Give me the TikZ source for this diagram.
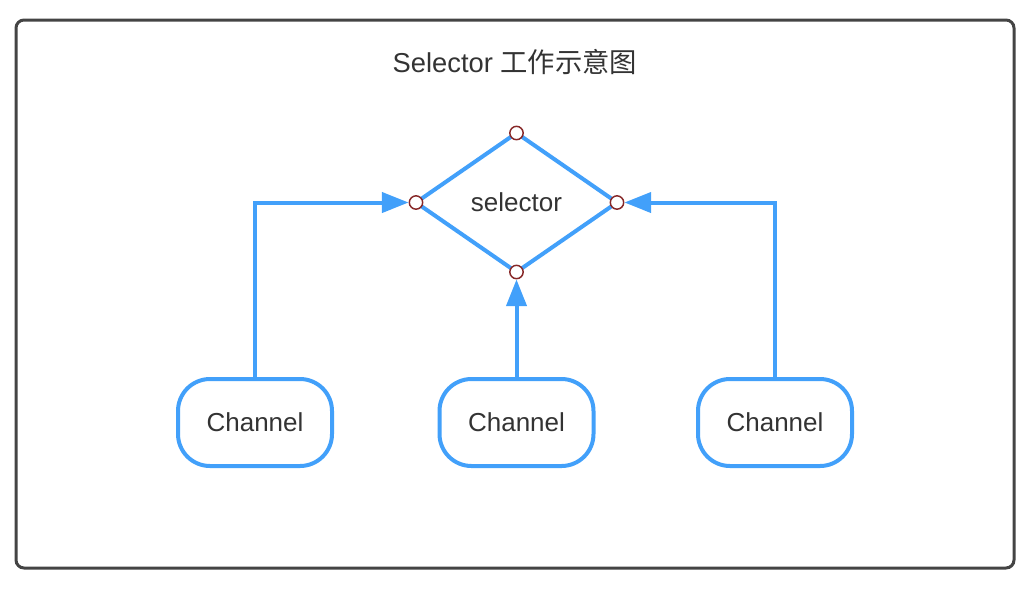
\documentclass[tikz,border=0pt]{standalone}
\usepackage{fontspec}
\setmainfont{Liberation Sans}
\newfontfamily\cjk{Noto Sans CJK SC}
\usetikzlibrary{arrows.meta,shapes.geometric}
\definecolor{lineblue}{RGB}{66,160,250}
\definecolor{framegray}{RGB}{68,68,68}
\definecolor{textgray}{RGB}{51,51,51}
\definecolor{portred}{RGB}{135,40,40}

\begin{document}
\begin{tikzpicture}[x=0.75pt,y=-0.75pt,>={Triangle[length=20pt,width=15pt]},
  chan/.style={draw=lineblue,line width=3pt,rounded corners=24pt,minimum width=115.5pt,minimum height=65.25pt,fill=white},
  port/.style={circle,draw=portred,fill=white,line width=1.1pt,minimum size=10pt,inner sep=0pt},
  lbl/.style={text=textgray,font=\fontsize{19.5}{23}\selectfont}]
\useasboundingbox (0,0) rectangle (1028,594);
\draw[framegray,line width=2.25pt,rounded corners=6pt] (16,20) rectangle (1014,568);
\node[text=textgray,font=\fontsize{20.5}{24}\selectfont] (title) at (515,62) {Selector {\cjk 工作示意图}};
\node[diamond,draw=lineblue,line width=3pt,minimum width=150.75pt,minimum height=104.25pt,aspect=1.45,inner sep=0pt,outer sep=0pt,lbl] (sel) at (516.5,202.5) {selector};
\node[port] (pn) at (sel.north) {};
\node[port] (pw) at (sel.west) {};
\node[port] (pe) at (sel.east) {};
\node[port] (ps) at (sel.south) {};
\node[chan,lbl] (ch1) at (255,422.5) {Channel};
\node[chan,lbl] (ch2) at (516.5,422.5) {Channel};
\node[chan,lbl] (ch3) at (775,422.5) {Channel};
\draw[->,lineblue,line width=3pt] (ch1.north) |- (pw);
\draw[->,lineblue,line width=3pt] (ch2.north) -- (ps);
\draw[->,lineblue,line width=3pt] (ch3.north) |- (pe);
\end{tikzpicture}
\end{document}
